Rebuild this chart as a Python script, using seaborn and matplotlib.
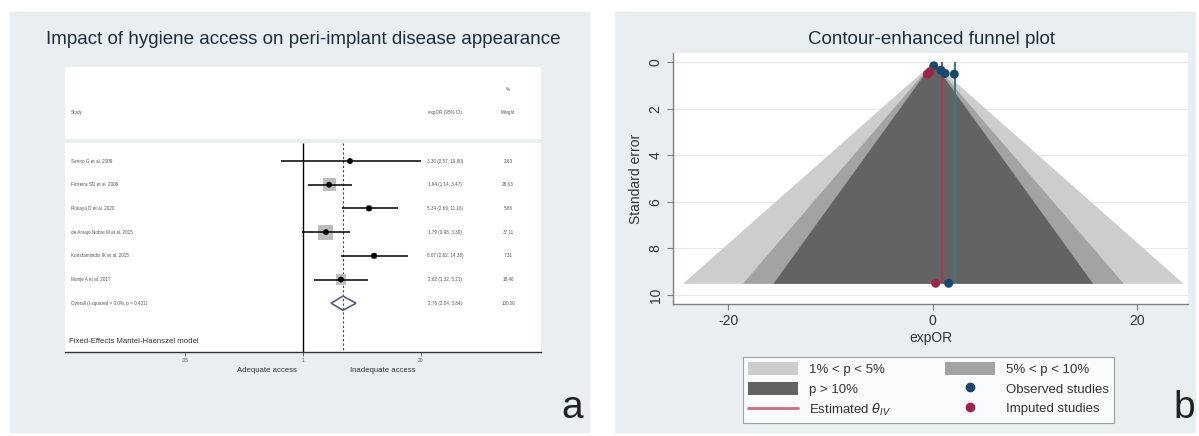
import numpy as np
import pandas as pd
import seaborn as sns
import matplotlib.pyplot as plt
from matplotlib.patches import Rectangle, Polygon, Patch
from matplotlib.lines import Line2D
import matplotlib.transforms as mtransforms

sns.set_theme(style="white")
plt.rcParams['font.family'] = ['Liberation Sans', 'DejaVu Sans']
plt.rcParams['axes.unicode_minus'] = False

# ---- panel a : forest plot ----
studies = ["Serino G et al. 2009", "Ferreira SD et al. 2006", "Rokaya D et al. 2020",
           "de Araujo Nobre M et al. 2015", "Konstantinidis IK et al. 2015",
           "Monje A et al. 2017"]
or_est = [3.30, 1.94, 5.34, 1.79, 6.07, 2.62]
ci_low = [0.57, 1.14, 2.69, 0.98, 2.62, 1.32]
ci_high = [19.80, 3.47, 11.16, 3.30, 14.38, 5.21]
weights = [2.63, 28.63, 5.86, 37.11, 7.31, 18.46]
pooled_label = "Overall (I-squared = 0.0%, p = 0.431)"
pooled_est = 2.76
pooled_low = 2.04
pooled_high = 3.84
forest_ticks = [0.05, 1, 20]
forest_ticklabels = [".05", "1", "20"]

# ---- panel b : contour-enhanced funnel plot ----
se_max = 9.5
z_1pct = 2.576
z_5pct = 1.96
z_10pct = 1.645
obs_x = [0.1, 0.8, 1.2, 2.1, 1.55]
obs_se = [0.16, 0.35, 0.49, 0.52, 9.5]
imp_x = [-0.53, -0.3, 0.28]
imp_se = [0.52, 0.42, 9.5]
theta_all = 0.9
theta_obs = 2.2

W, H = 1199, 436
bg = "#e9eff1"
fig = plt.figure(figsize=(W / 100, H / 100), dpi=100)
fig.patch.set_facecolor("white")

# panel backgrounds
for x0, x1 in [(10, 589), (615, 1195)]:
    fig.patches.append(Rectangle((x0 / W, 1 - 432 / H), (x1 - x0) / W, 420 / H,
                                 transform=fig.transFigure, color=bg, zorder=-10))

# ================= forest plot =================
axf = fig.add_axes([65 / W, 1 - 352 / H, 476 / W, 285 / H])
axf.set_facecolor("white")
axf.set_xscale("log")
axf.set_xlim(np.exp(-6.04), np.exp(6.04))
axf.set_ylim(8.06, -3.97)
rows = np.arange(len(studies))

# gap between header and body
axf.axhspan(-0.95, -0.75, color=bg, lw=0, zorder=1)

axf.vlines(1, -0.75, 8.06, color="black", lw=1.0, zorder=2)
axf.vlines(pooled_est, -0.75, 8.06, color="#444444", lw=0.8, ls=(0, (2, 2)), zorder=2)

axf.hlines(rows, ci_low, ci_high, color="black", lw=1.1, zorder=3)
axf.scatter(or_est, rows, marker="s", s=[w * 3.1 for w in weights],
            color="#bdbdbd", lw=0, zorder=2.5)
sns.scatterplot(x=or_est, y=rows, color="black", s=18, edgecolor="none",
                ax=axf, zorder=4, legend=False)
py = len(studies)
axf.add_patch(Polygon([(pooled_low, py), (pooled_est, py - 0.3),
                       (pooled_high, py), (pooled_est, py + 0.3)],
                      closed=True, fill=False, edgecolor="#56607a", lw=1.2, zorder=4))

tr = mtransforms.blended_transform_factory(axf.transAxes, axf.transData)
tc = "#555555"
fs = 3.3
axf.text(0.013, -2.03, "Study", transform=tr, fontsize=fs, color=tc, va="center")
axf.text(0.798, -2.03, "expOR (95% CI)", transform=tr, fontsize=fs, color=tc,
         va="center", ha="center")
axf.text(0.931, -3.04, "%", transform=tr, fontsize=fs, color=tc, va="center", ha="center")
axf.text(0.931, -2.03, "Weight", transform=tr, fontsize=fs, color=tc, va="center", ha="center")
for i in rows:
    axf.text(0.013, i, studies[i], transform=tr, fontsize=fs, color=tc, va="center")
    axf.text(0.798, i, f"{or_est[i]:.2f} ({ci_low[i]:.2f}, {ci_high[i]:.2f})",
             transform=tr, fontsize=fs, color=tc, va="center", ha="center")
    axf.text(0.931, i, f"{weights[i]:.2f}", transform=tr, fontsize=fs, color=tc,
             va="center", ha="center")
axf.text(0.013, py, pooled_label, transform=tr, fontsize=fs, color=tc, va="center")
axf.text(0.798, py, f"{pooled_est:.2f} ({pooled_low:.2f}, {pooled_high:.2f})",
         transform=tr, fontsize=fs, color=tc, va="center", ha="center")
axf.text(0.931, py, "100.00", transform=tr, fontsize=fs, color=tc, va="center", ha="center")
axf.text(0.008, 7.62, "Fixed-Effects Mantel-Haenszel model", transform=tr,
         fontsize=5.6, color="#333333", va="center")

for s in ["top", "left", "right"]:
    axf.spines[s].set_visible(False)
axf.spines["bottom"].set_color("#333333")
axf.spines["bottom"].set_linewidth(1.0)
axf.set_xticks(forest_ticks)
axf.set_xticklabels(forest_ticklabels)
axf.minorticks_off()
axf.set_yticks([])
axf.tick_params(axis="x", direction="out", length=3, width=0.6, color="#555555",
                labelsize=3.5, labelcolor="#555555", pad=1.5, bottom=True)

fig.text(267 / W, 1 - 370 / H, "Adequate access", ha="center", va="center",
         fontsize=5.6, color="#333333")
fig.text(383 / W, 1 - 370 / H, "Inadequate access", ha="center", va="center",
         fontsize=5.6, color="#333333")
fig.text(303 / W, 1 - 40 / H, "Impact of hygiene access on peri-implant disease appearance",
         ha="center", va="center", fontsize=13.5, color="#1f2d3a")
fig.text(572 / W, 1 - 408 / H, "a", ha="center", va="center", fontsize=28, color="#222222")

# ================= funnel plot =================
axb = fig.add_axes([673 / W, 1 - 304 / H, 515 / W, 251 / H])
axb.set_facecolor("white")
se = np.array([0, se_max])
axb.fill_betweenx(se, -z_1pct * se, z_1pct * se, color="#cdcdcd", lw=0, zorder=1)
axb.fill_betweenx(se, -z_5pct * se, z_5pct * se, color="#a3a3a3", lw=0, zorder=1.1)
axb.fill_betweenx(se, -z_10pct * se, z_10pct * se, color="#636363", lw=0, zorder=1.2)
axb.vlines(theta_all, 0, se_max, color="#a23a55", lw=1.4, zorder=2)
axb.vlines(theta_obs, 0, se_max, color="#3b7a70", lw=1.4, zorder=2)

pts = pd.DataFrame({
    "x": obs_x + imp_x,
    "se": obs_se + imp_se,
    "kind": ["Observed studies"] * len(obs_x) + ["Imputed studies"] * len(imp_x),
})
sns.scatterplot(data=pts, x="x", y="se", hue="kind",
                palette={"Observed studies": "#1a476f", "Imputed studies": "#a0234a"},
                s=42, edgecolor="none", ax=axb, legend=False, zorder=3)

axb.set_xlim(-25.4, 24.95)
axb.set_ylim(10.39, -0.39)
axb.set_xticks([-20, 0, 20])
axb.set_yticks([0, 2, 4, 6, 8, 10])
axb.yaxis.grid(True, color="#e4eaec", lw=0.8)
axb.set_axisbelow(True)
for s in ["top", "right"]:
    axb.spines[s].set_visible(False)
for s in ["left", "bottom"]:
    axb.spines[s].set_color("#7f7f7f")
    axb.spines[s].set_linewidth(1.0)
axb.tick_params(direction="out", length=4, width=0.8, color="#7f7f7f",
                labelsize=10, labelcolor="#333333", left=True, bottom=True)
for lab in axb.get_yticklabels():
    lab.set_rotation(90)
    lab.set_va("center")
axb.set_xlabel("expOR", fontsize=10, color="#333333", labelpad=2)
axb.set_ylabel("Standard error", fontsize=10, color="#333333", labelpad=4)
fig.text(932 / W, 1 - 40 / H, "Contour-enhanced funnel plot", ha="center", va="center",
         fontsize=13.5, color="#1f2d3a")
fig.text(1184 / W, 1 - 408 / H, "b", ha="center", va="center", fontsize=28, color="#222222")

handles = [
    Patch(facecolor="#cdcdcd", edgecolor="none", label="1% < p < 5%"),
    Patch(facecolor="#636363", edgecolor="none", label="p > 10%"),
    Line2D([], [], color="#d4687f", lw=2, label=r"Estimated $\theta_{IV}$"),
    Patch(facecolor="#a3a3a3", edgecolor="none", label="5% < p < 10%"),
    Line2D([], [], marker="o", ls="", color="#1a476f", markersize=6, label="Observed studies"),
    Line2D([], [], marker="o", ls="", color="#a0234a", markersize=6, label="Imputed studies"),
]
leg = fig.legend(handles=handles, ncol=2, loc="lower left", mode="expand",
                 bbox_to_anchor=(743 / W, 1 - 423 / H, 371 / W, 70 / H),
                 fontsize=9.5, handlelength=3.8, handleheight=1.1, labelspacing=0.45,
                 columnspacing=1.5, borderaxespad=0, frameon=True, fancybox=False,
                 borderpad=0.4)
leg.get_frame().set_edgecolor("#8a8a8a")
leg.get_frame().set_linewidth(0.8)
for t in leg.get_texts():
    t.set_color("#333333")

fig.savefig("out.png", dpi=100)
